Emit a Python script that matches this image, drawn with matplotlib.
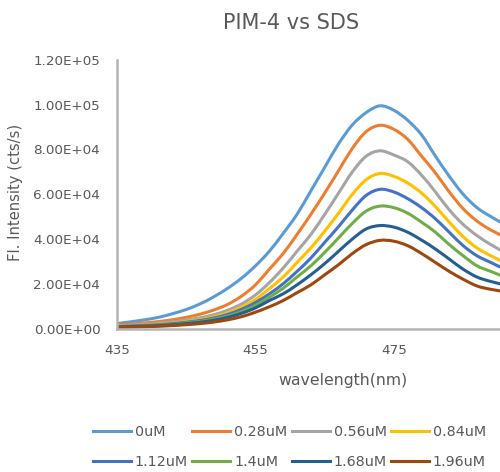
import numpy as np
import matplotlib.pyplot as plt
from matplotlib.path import Path
from matplotlib.patches import PathPatch
from matplotlib.lines import Line2D

# wavelength (nm), read every 2 nm off the reference
wavelength = [435, 437, 439, 441, 443, 445, 447, 449, 451, 453, 455, 457, 459, 461, 463,
              465, 467, 469, 471, 473, 475, 477, 479, 481, 483, 485, 487, 489, 491]

# intensities in thousands of cts/s
i_0uM = [2.2, 3.0, 3.9, 5.0, 6.6, 8.5, 11.0, 14.2, 18.0, 22.5, 28.0, 34.5, 42.5, 51.0, 61.5,
         72.0, 82.5, 91.0, 96.5, 99.5, 97.5, 93.0, 86.5, 77.0, 68.0, 60.0, 54.0, 50.0, 46.5]
i_028uM = [1.6, 2.0, 2.5, 3.1, 3.9, 5.0, 6.4, 8.3, 10.8, 14.5, 19.5, 26.5, 33.5, 42.0, 51.0,
           60.5, 70.5, 80.5, 88.0, 90.8, 89.0, 84.5, 77.0, 69.5, 61.0, 53.5, 48.0, 44.0, 41.0]
i_056uM = [1.2, 1.5, 1.9, 2.4, 3.0, 3.8, 4.8, 6.2, 8.2, 11.0, 15.0, 20.5, 27.0, 34.5, 42.0,
           51.0, 60.5, 70.0, 77.0, 79.4, 77.5, 74.5, 68.5, 61.0, 53.0, 46.5, 41.5, 37.5, 34.0]
i_084uM = [1.0, 1.2, 1.5, 1.9, 2.4, 3.1, 4.0, 5.2, 7.0, 9.6, 13.0, 17.8, 23.0, 29.5, 36.0,
           43.5, 51.5, 60.0, 66.5, 69.3, 68.0, 65.0, 60.5, 54.5, 47.5, 41.0, 36.0, 32.5, 29.5]
i_112uM = [0.9, 1.1, 1.4, 1.7, 2.2, 2.8, 3.6, 4.7, 6.3, 8.6, 11.6, 15.5, 20.0, 25.5, 31.5,
           38.5, 45.5, 53.0, 59.5, 62.2, 61.0, 58.0, 54.0, 49.0, 43.0, 37.0, 32.5, 29.5, 26.5]
i_14uM = [0.8, 1.0, 1.2, 1.5, 1.9, 2.5, 3.2, 4.2, 5.6, 7.6, 10.3, 14.0, 18.0, 23.0, 28.0,
          34.0, 40.5, 47.0, 52.5, 54.7, 54.0, 51.5, 47.5, 43.0, 37.5, 32.5, 28.0, 25.5, 23.0]
i_168uM = [0.7, 0.9, 1.1, 1.3, 1.7, 2.2, 2.8, 3.7, 5.0, 6.8, 9.2, 12.5, 15.5, 19.5, 24.0,
           29.0, 34.5, 40.0, 44.5, 46.0, 45.3, 43.0, 39.5, 35.5, 31.0, 26.5, 23.0, 21.0, 19.5]
i_196uM = [0.5, 0.6, 0.8, 1.0, 1.3, 1.7, 2.2, 2.9, 3.9, 5.3, 7.3, 9.7, 12.5, 16.0, 19.5,
           24.0, 28.5, 33.5, 37.5, 39.4, 39.0, 37.0, 33.5, 29.5, 25.5, 22.0, 19.0, 17.5, 16.5]

labels = ['0uM', '0.28uM', '0.56uM', '0.84uM', '1.12uM', '1.4uM', '1.68uM', '1.96uM']
series = [i_0uM, i_028uM, i_056uM, i_084uM, i_112uM, i_14uM, i_168uM, i_196uM]
colors = ['#5B9BD5', '#ED7D31', '#A5A5A5', '#FFC000', '#4472C4', '#70AD47', '#255E91', '#9E480E']


def smooth_path(x, y):
    # excel-style "smoothed line": bezier segments through the points
    pts = np.column_stack([x, y]).astype(float)
    ext = np.vstack([pts[0], pts, pts[-1]])
    verts = [pts[0]]
    codes = [Path.MOVETO]
    for k in range(len(pts) - 1):
        p0, p1, p2, p3 = ext[k], ext[k + 1], ext[k + 2], ext[k + 3]
        verts += [p1 + (p2 - p0) / 6, p2 - (p3 - p1) / 6, p2]
        codes += [Path.CURVE4] * 3
    return Path(verts, codes)


txt = '#595959'
fig = plt.figure(figsize=(5, 4.72), dpi=100)
# axes runs past the right edge of the picture, like the cropped original
ax = fig.add_axes([0.234, 0.304, 0.9, 0.569])

handles = []
for vals, lab, c in zip(series, labels, colors):
    ax.add_patch(PathPatch(smooth_path(wavelength, np.array(vals) * 1000), fill=False,
                           edgecolor=c, lw=2.2, joinstyle='round', capstyle='round'))
    handles.append(Line2D([], [], color=c, lw=2.2, label=lab))

ax.set_xlim(435, 500)
ax.set_ylim(0, 120000)
ax.set_xticks([435, 455, 475])
ax.set_yticks(np.arange(0, 120001, 20000))
ax.yaxis.set_major_formatter(plt.FuncFormatter(lambda v, p: f'{v:.2E}'))
ax.tick_params(length=0, labelsize=9.7, labelcolor=txt)
ax.tick_params(axis='y', pad=12)
ax.tick_params(axis='x', pad=11)
for s in ['top', 'right']:
    ax.spines[s].set_visible(False)
for s in ['left', 'bottom']:
    ax.spines[s].set_color('#B4B4B4')
    ax.spines[s].set_linewidth(1.8)

fig.text(0.582, 0.9386, 'PIM-4 vs SDS', ha='center', va='baseline', fontsize=15, color=txt)
fig.text(0.685, 0.185, 'wavelength(nm)', ha='center', va='baseline', fontsize=11.3, color=txt)
fig.text(0.032, 0.593, 'Fl. Intensity (cts/s)', ha='center', va='center', rotation=90,
         fontsize=10.6, color=txt)

# legend fills column by column, so reorder to get rows of four
order = [0, 4, 1, 5, 2, 6, 3, 7]
fig.legend([handles[k] for k in order], [labels[k] for k in order],
           loc='upper left', bbox_to_anchor=(0.186, 0.1), ncol=4, frameon=False,
           fontsize=10.3, handlelength=2.65, handletextpad=0.28, columnspacing=0.3,
           labelspacing=1.1, borderpad=0, borderaxespad=0, labelcolor=txt)

fig.savefig('out.png', dpi=100)
